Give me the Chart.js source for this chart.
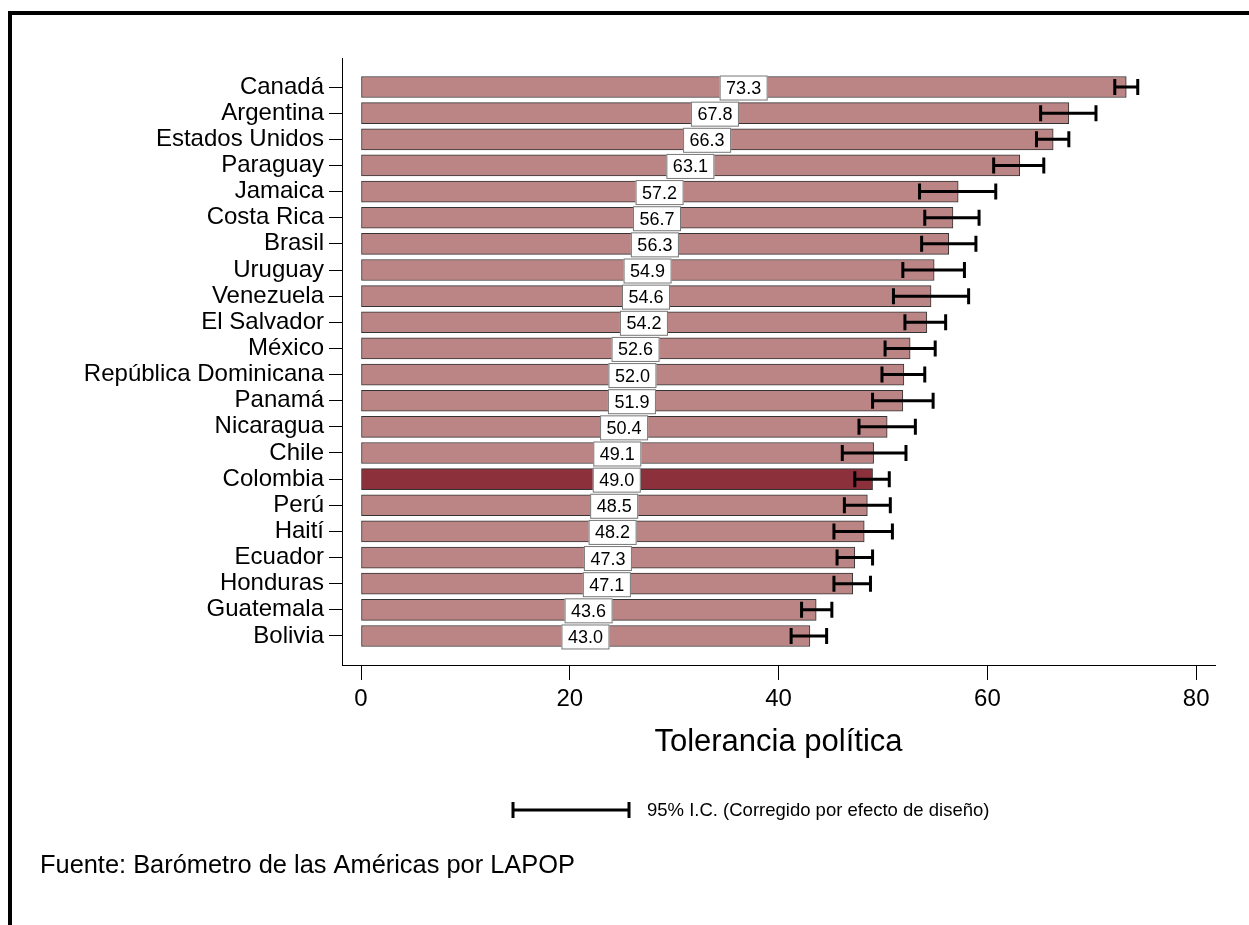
<!DOCTYPE html>
<html>
<head>
<meta charset="utf-8">
<script src="https://cdn.jsdelivr.net/npm/chart.js@4/dist/chart.umd.min.js"></script>
<style>
  html, body { margin: 0; padding: 0; background: #fff; }
  #wrap { width: 1249px; height: 925px; position: relative; }
</style>
</head>
<body>
<div id="wrap"><canvas id="c"></canvas></div>
<script>
const countries = ["Canadá","Argentina","Estados Unidos","Paraguay","Jamaica","Costa Rica","Brasil","Uruguay","Venezuela","El Salvador","México","República Dominicana","Panamá","Nicaragua","Chile","Colombia","Perú","Haití","Ecuador","Honduras","Guatemala","Bolivia"];
const values = [73.3,67.8,66.3,63.1,57.2,56.7,56.3,54.9,54.6,54.2,52.6,52.0,51.9,50.4,49.1,49.0,48.5,48.2,47.3,47.1,43.6,43.0];
const ciLow  = [72.2,65.1,64.7,60.6,53.5,54.0,53.7,51.9,51.0,52.1,50.2,49.9,49.0,47.7,46.1,47.3,46.3,45.3,45.6,45.3,42.2,41.2];
const ciHigh = [74.4,70.4,67.8,65.4,60.8,59.2,58.9,57.8,58.2,56.0,55.0,54.0,54.8,53.1,52.2,50.6,50.7,50.9,49.0,48.8,45.1,44.6];
const xTicks = [0,20,40,60,80];
const highlight = "Colombia";
const xTitle = "Tolerancia política";
const legendText = "95% I.C. (Corregido por efecto de diseño)";
const sourceText = "Fuente: Barómetro de las Américas por LAPOP";

const FONT = "'Liberation Sans', Arial, sans-serif";
const barColor = "#BC8585";
const hiColor = "#8C303B";

const overlay = {
  id: 'overlay',
  afterDatasetsDraw(chart) {
    const ctx = chart.ctx;
    const xs = chart.scales.x, ys = chart.scales.y;
    ctx.save();
    // error bars
    ctx.strokeStyle = '#000';
    ctx.lineWidth = 3;
    ctx.lineCap = 'butt';
    for (let i = 0; i < countries.length; i++) {
      const y = ys.getPixelForValue(i);
      const x1 = xs.getPixelForValue(ciLow[i]);
      const x2 = xs.getPixelForValue(ciHigh[i]);
      ctx.beginPath();
      ctx.moveTo(x1, y); ctx.lineTo(x2, y);
      ctx.moveTo(x1, y - 8); ctx.lineTo(x1, y + 8);
      ctx.moveTo(x2, y - 8); ctx.lineTo(x2, y + 8);
      ctx.stroke();
    }
    // value labels
    ctx.font = "18px " + FONT;
    ctx.textAlign = 'center';
    ctx.textBaseline = 'middle';
    for (let i = 0; i < countries.length; i++) {
      const y = ys.getPixelForValue(i) + 1;
      const x = xs.getPixelForValue(values[i] / 2);
      const txt = values[i].toFixed(1);
      const w = ctx.measureText(txt).width + 13;
      const h = 25;
      ctx.fillStyle = '#fff';
      ctx.fillRect(x - w / 2, y - h / 2, w, h);
      ctx.strokeStyle = '#777';
      ctx.lineWidth = 1;
      ctx.strokeRect(x - w / 2 + 0.5, y - h / 2 + 0.5, w - 1, h - 1);
      ctx.fillStyle = '#000';
      ctx.fillText(txt, x, y + 1);
    }
    ctx.restore();
  },
  afterDraw(chart) {
    const ctx = chart.ctx;
    ctx.save();
    // frame (top & left)
    ctx.fillStyle = '#000';
    ctx.fillRect(8, 11, 1249 - 8, 4);
    ctx.fillRect(8, 11, 4, 925 - 11);
    // legend sample
    ctx.strokeStyle = '#000';
    ctx.lineWidth = 3;
    ctx.beginPath();
    ctx.moveTo(513, 810); ctx.lineTo(629, 810);
    ctx.moveTo(513, 802); ctx.lineTo(513, 818);
    ctx.moveTo(629, 802); ctx.lineTo(629, 818);
    ctx.stroke();
    ctx.fillStyle = '#000';
    ctx.textBaseline = 'middle';
    ctx.textAlign = 'left';
    ctx.font = "18.5px " + FONT;
    ctx.fillText(legendText, 647, 811);
    ctx.font = "25.4px " + FONT;
    ctx.fillText(sourceText, 40, 866);
    ctx.restore();
  }
};

new Chart(document.getElementById('c'), {
  type: 'bar',
  data: {
    datasets: [{
      data: values.map((v, i) => ({ x: v, y: i })),
      backgroundColor: countries.map(c => c === highlight ? hiColor : barColor),
      borderColor: '#333',
      borderWidth: 1,
      borderSkipped: false,
      barThickness: 21
    }]
  },
  options: {
    indexAxis: 'y',
    responsive: true,
    maintainAspectRatio: false,
    animation: false,
    layout: { padding: { left: 0, top: 58, right: 34, bottom: 160 } },
    plugins: { legend: { display: false }, tooltip: { enabled: false } },
    scales: {
      x: {
        type: 'linear',
        min: -1.82,
        max: 81.8,
        offset: false,
        afterBuildTicks: s => { s.ticks = xTicks.map(v => ({ value: v })); },
        grid: { display: true, offset: false, drawOnChartArea: false, drawTicks: true, tickLength: 15, color: '#000', lineWidth: 1 },
        border: { display: true, color: '#000', width: 1 },
        ticks: { color: '#000', font: { family: FONT, size: 24 }, padding: 5, maxRotation: 0 },
        title: { display: true, text: xTitle, color: '#000', font: { family: FONT, size: 31 }, padding: { top: 5, bottom: 4 } }
      },
      y: {
        type: 'linear',
        reverse: true,
        offset: false,
        min: -1.11,
        max: 22.11,
        afterBuildTicks: s => { s.ticks = countries.map((c, i) => ({ value: i })); },
        afterFit: s => { s.width = 342; },
        grid: { display: true, offset: false, drawOnChartArea: false, drawTicks: true, tickLength: 13, color: '#000', lineWidth: 1 },
        border: { display: true, color: '#000', width: 1 },
        ticks: { color: '#000', font: { family: FONT, size: 24 }, padding: 5, autoSkip: false,
                 callback: v => countries[v] }
      }
    }
  },
  plugins: [overlay]
});
</script>
</body>
</html>
